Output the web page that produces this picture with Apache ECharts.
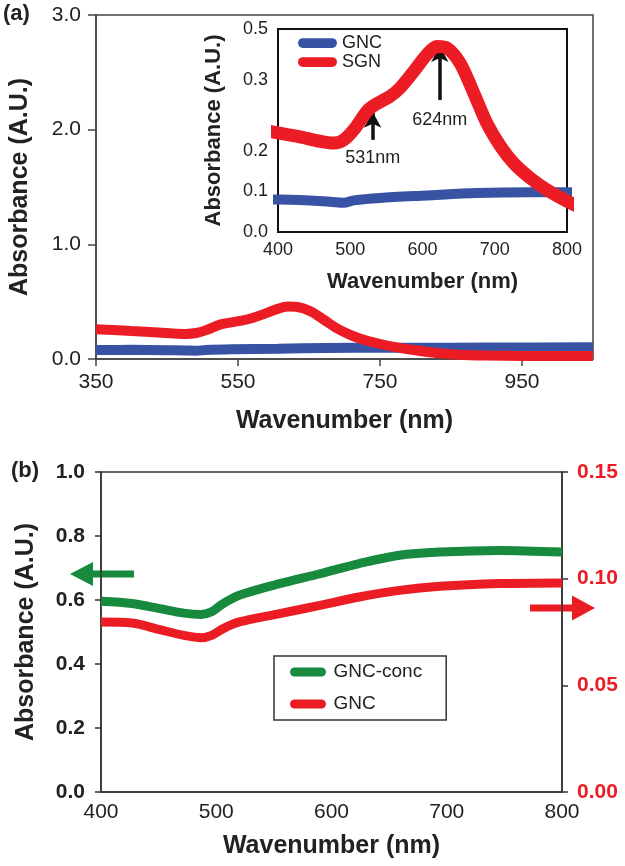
<!DOCTYPE html>
<html>
<head>
<meta charset="utf-8">
<script src="https://cdn.jsdelivr.net/npm/echarts@6/dist/echarts.min.js"></script>
<style>
  html, body { margin: 0; padding: 0; background: #fff; }
  #chart { width: 625px; height: 866px; }
</style>
</head>
<body>
<div id="chart"></div>
<script>
// ---------- Panel (a): main + inset ----------
const sgnWavelengths = [350, 375, 400, 426, 459, 477, 491, 505, 523, 532, 555, 569, 588, 606, 620, 634, 652, 671, 689, 708, 726, 749, 772, 800, 830, 860, 900, 950, 1000, 1050];
const sgnValues      = [0.26, 0.252, 0.244, 0.236, 0.223, 0.219, 0.227, 0.252, 0.297, 0.311, 0.334, 0.355, 0.396, 0.437, 0.457, 0.453, 0.416, 0.342, 0.268, 0.211, 0.170, 0.133, 0.104, 0.076, 0.052, 0.037, 0.030, 0.027, 0.026, 0.026];
const gncWavelengths = [350, 400, 450, 475, 491, 505, 541, 606, 675, 750, 800, 900, 1050];
const gncValues      = [0.078, 0.080, 0.077, 0.074, 0.072, 0.078, 0.084, 0.090, 0.096, 0.098, 0.098, 0.100, 0.102];

const mainXTicks = [350, 550, 750, 950];
const mainYTicks = [0, 1, 2, 3];
const insetXTicks = [400, 500, 600, 700, 800];
const insetYTickValues = [0, 0.1, 0.2, 0.375, 0.5];
const insetYTickLabels = ['0.0', '0.1', '0.2', '0.3', '0.5'];

const peakMarks = [531, 624];
const peakArrowFrom = [0.227, 0.325];
const peakArrowTo = [0.296, 0.458];
const peakLabelY = [0.182, 0.276];
const peakLabels = ['531nm', '624nm'];

// ---------- Panel (b) ----------
const bWavelengths = [400, 427, 451, 472, 487, 496, 506, 520, 555, 590, 624, 659, 694, 746, 800];
const gncConcValues = [0.596, 0.589, 0.573, 0.559, 0.555, 0.563, 0.589, 0.615, 0.651, 0.682, 0.714, 0.740, 0.750, 0.755, 0.750];
const gncBValues    = [0.0797, 0.0792, 0.0761, 0.0734, 0.0723, 0.0734, 0.0766, 0.0797, 0.0836, 0.0875, 0.0914, 0.0945, 0.0964, 0.0977, 0.0980];
const bXTicks = [400, 500, 600, 700, 800];
const bLeftTicks = [0, 0.2, 0.4, 0.6, 0.8, 1.0];
const bRightTicks = [0, 0.05, 0.10, 0.15];

const RED = '#EC1C24', BLUE = '#3953A4', GREEN = '#178A3E';
const FONT = 'Liberation Sans, Arial, sans-serif';
const pair = (xs, ys) => xs.map((x, i) => [x, ys[i]]);
const capsule = 'path://M5,0 L35,0 A5,5 0 0 1 35,10 L5,10 A5,5 0 0 1 5,0 Z';

const chart = echarts.init(document.getElementById('chart'), null, { renderer: 'canvas' });

const option = {
  animation: false,
  textStyle: { fontFamily: FONT },
  grid: [
    { left: 96, top: 15, right: 32, bottom: 507, show: true, borderColor: '#444', borderWidth: 1.5, backgroundColor: 'transparent', outerBoundsMode: 'none' },
    { left: 278, top: 29, right: 58, bottom: 634, show: true, borderColor: '#111', borderWidth: 2, backgroundColor: '#fff', outerBoundsMode: 'none', z: 3 },
    { left: 101, top: 472, right: 63, bottom: 74, show: true, borderColor: '#333', borderWidth: 1.5, backgroundColor: 'transparent', outerBoundsMode: 'none' }
  ],
  xAxis: [
    {
      gridIndex: 0, type: 'value', min: 350, max: 1050,
      axisLine: { show: true, lineStyle: { color: '#444', width: 1.5 } },
      axisTick: { show: true, length: 7, customValues: mainXTicks, lineStyle: { color: '#444', width: 1.5 } },
      axisLabel: { customValues: mainXTicks, fontSize: 21, color: '#222', margin: 13, fontFamily: FONT },
      splitLine: { show: false },
      name: 'Wavenumber (nm)', nameLocation: 'middle', nameGap: 50,
      nameTextStyle: { fontSize: 25, fontWeight: 'bold', color: '#222', fontFamily: FONT }
    },
    {
      gridIndex: 1, type: 'value', min: 400, max: 800,
      axisLine: { show: true, lineStyle: { color: '#111', width: 2 } },
      axisTick: { show: false },
      axisLabel: { customValues: insetXTicks, fontSize: 18, color: '#222', margin: 9, fontFamily: FONT },
      splitLine: { show: false },
      name: 'Wavenumber (nm)', nameLocation: 'middle', nameGap: 39,
      nameTextStyle: { fontSize: 22, fontWeight: 'bold', color: '#222', fontFamily: FONT }
    },
    {
      gridIndex: 2, type: 'value', min: 400, max: 800,
      axisLine: { show: true, lineStyle: { color: '#333', width: 1.5 } },
      axisTick: { show: false },
      axisLabel: { customValues: bXTicks, fontSize: 21, color: '#222', margin: 10, fontFamily: FONT },
      splitLine: { show: false },
      name: 'Wavenumber (nm)', nameLocation: 'middle', nameGap: 42,
      nameTextStyle: { fontSize: 25, fontWeight: 'bold', color: '#222', fontFamily: FONT }
    }
  ],
  yAxis: [
    {
      gridIndex: 0, type: 'value', min: 0, max: 3,
      axisLine: { show: true, lineStyle: { color: '#444', width: 1.5 } },
      axisTick: { show: true, length: 8, customValues: mainYTicks, lineStyle: { color: '#444', width: 1.5 } },
      axisLabel: { customValues: mainYTicks, formatter: v => v.toFixed(1), fontSize: 21, color: '#222', margin: 15, fontFamily: FONT },
      splitLine: { show: false },
      name: 'Absorbance (A.U.)', nameLocation: 'middle', nameGap: 63,
      nameTextStyle: { fontSize: 25, fontWeight: 'bold', color: '#222', fontFamily: FONT }
    },
    {
      gridIndex: 1, type: 'value', min: 0, max: 0.5,
      axisLine: { show: true, lineStyle: { color: '#111', width: 2 } },
      axisTick: { show: false },
      axisLabel: {
        customValues: insetYTickValues,
        formatter: v => {
          const i = insetYTickValues.findIndex(t => Math.abs(t - v) < 1e-6);
          return i >= 0 ? insetYTickLabels[i] : '';
        },
        fontSize: 18, color: '#222', margin: 10, fontFamily: FONT
      },
      splitLine: { show: false },
      name: 'Absorbance (A.U.)', nameLocation: 'middle', nameGap: 53,
      nameTextStyle: { fontSize: 22, fontWeight: 'bold', color: '#222', fontFamily: FONT }
    },
    {
      gridIndex: 2, type: 'value', min: 0, max: 1, position: 'left',
      axisLine: { show: true, lineStyle: { color: '#333', width: 1.5 } },
      axisTick: { show: true, length: 6, customValues: bLeftTicks, lineStyle: { color: '#333', width: 1.5 } },
      axisLabel: { customValues: bLeftTicks, formatter: v => v.toFixed(1), fontSize: 21, fontWeight: 'bold', color: '#222', margin: 16, fontFamily: FONT },
      splitLine: { show: false },
      name: 'Absorbance (A.U.)', nameLocation: 'middle', nameGap: 62,
      nameTextStyle: { fontSize: 25, fontWeight: 'bold', color: '#222', fontFamily: FONT }
    },
    {
      gridIndex: 2, type: 'value', min: 0, max: 0.15, position: 'right',
      axisLine: { show: true, lineStyle: { color: '#333', width: 1.5 } },
      axisTick: { show: true, length: 6, customValues: bRightTicks, lineStyle: { color: '#333', width: 1.5 } },
      axisLabel: { customValues: bRightTicks, formatter: v => v.toFixed(2), fontSize: 21, fontWeight: 'bold', color: RED, margin: 15, fontFamily: FONT },
      splitLine: { show: false }
    }
  ],
  legend: [
    {
      data: ['GNC', 'SGN'], orient: 'vertical', left: 298, top: 34, padding: 0,
      itemWidth: 39, itemHeight: 10, itemGap: 1, icon: capsule,
      textStyle: { fontSize: 18, lineHeight: 18, color: '#222', fontFamily: FONT },
      selectedMode: false, z: 10
    },
    {
      data: ['GNC-conc', 'GNC_b'], orient: 'vertical', left: 274, top: 656,
      padding: [6, 24, 6, 16], borderColor: '#333', borderWidth: 1.5, backgroundColor: '#fff',
      itemWidth: 41, itemHeight: 9, itemGap: 12, icon: capsule,
      formatter: n => n === 'GNC_b' ? 'GNC' : n,
      textStyle: { fontSize: 19, lineHeight: 20, color: '#222', fontFamily: FONT },
      selectedMode: false
    }
  ],
  series: [
    {
      name: 'GNC', type: 'line', xAxisIndex: 0, yAxisIndex: 0, data: pair(gncWavelengths, gncValues),
      smooth: 0.3, showSymbol: false, color: BLUE, lineStyle: { color: BLUE, width: 10 }, itemStyle: { color: BLUE }
    },
    {
      name: 'SGN', type: 'line', xAxisIndex: 0, yAxisIndex: 0, data: pair(sgnWavelengths, sgnValues),
      smooth: 0.3, showSymbol: false, color: RED, lineStyle: { color: RED, width: 10 }, itemStyle: { color: RED }
    },
    {
      name: 'GNC', type: 'line', xAxisIndex: 1, yAxisIndex: 1, data: pair(gncWavelengths, gncValues), z: 5,
      smooth: 0.3, showSymbol: false, color: BLUE, lineStyle: { color: BLUE, width: 10 }, itemStyle: { color: BLUE }
    },
    {
      name: 'SGN', type: 'line', xAxisIndex: 1, yAxisIndex: 1, data: pair(sgnWavelengths, sgnValues), z: 6,
      smooth: 0.3, showSymbol: false, color: RED, lineStyle: { color: RED, width: 13 }, itemStyle: { color: RED },
      markLine: {
        silent: true, symbol: ['none', 'arrow'], symbolSize: [13, 16],
        lineStyle: { color: '#111', width: 3.5, type: 'solid' },
        label: { show: false },
        data: peakMarks.map((w, i) => [{ coord: [w, peakArrowFrom[i]] }, { coord: [w, peakArrowTo[i]] }])
      },
      markPoint: {
        silent: true, symbol: 'circle', symbolSize: 0,
        label: { show: true, formatter: '{b}', position: 'inside', fontSize: 18, color: '#222', fontFamily: FONT },
        data: peakMarks.map((w, i) => ({ name: peakLabels[i], coord: [w, peakLabelY[i]] }))
      }
    },
    {
      name: 'GNC-conc', type: 'line', xAxisIndex: 2, yAxisIndex: 2, data: pair(bWavelengths, gncConcValues),
      smooth: 0.3, showSymbol: false, color: GREEN, lineStyle: { color: GREEN, width: 9 }, itemStyle: { color: GREEN }
    },
    {
      name: 'GNC_b', type: 'line', xAxisIndex: 2, yAxisIndex: 3, data: pair(bWavelengths, gncBValues),
      smooth: 0.3, showSymbol: false, color: RED, lineStyle: { color: RED, width: 9 }, itemStyle: { color: RED }
    }
  ],
  graphic: [
    { type: 'text', left: 3, top: 3, style: { text: '(a)', fontSize: 22, fontWeight: 'bold', fill: '#222', fontFamily: FONT } },
    { type: 'text', left: 11, top: 460, style: { text: '(b)', fontSize: 22, fontWeight: 'bold', fill: '#222', fontFamily: FONT } },
    { type: 'polygon', shape: { points: [[70, 574], [93, 562], [93, 570.5], [134, 570.5], [134, 577.5], [93, 577.5], [93, 586]] }, style: { fill: GREEN } },
    { type: 'polygon', shape: { points: [[595, 608], [572, 595.5], [572, 604.5], [530, 604.5], [530, 611.5], [572, 611.5], [572, 620.5]] }, style: { fill: RED } }
  ]
};

chart.setOption(option);
</script>
</body>
</html>
